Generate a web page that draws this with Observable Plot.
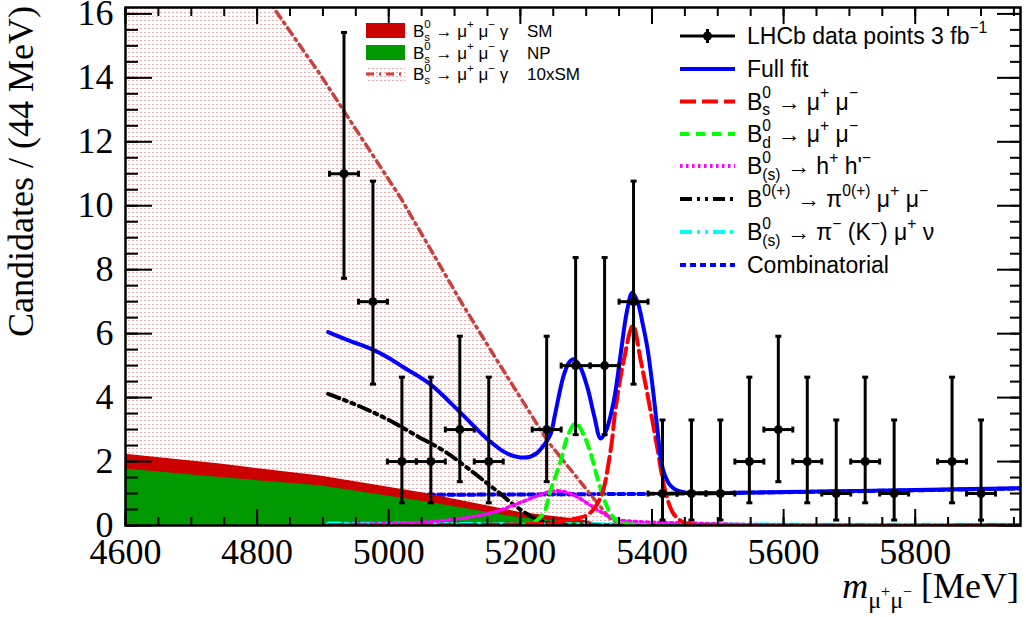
<!DOCTYPE html>
<html><head><meta charset="utf-8">
<script src="https://cdn.jsdelivr.net/npm/d3@7"></script>
<script src="https://cdn.jsdelivr.net/npm/@observablehq/plot@0.6"></script>
<style>body{margin:0;background:#fff;overflow:hidden}</style>
</head><body>
<div id="chart"></div>
<script>
// ---------------- data ----------------
const xMajor = [4600, 4800, 5000, 5200, 5400, 5600, 5800];
const yMajor = [0, 2, 4, 6, 8, 10, 12, 14, 16];

// LHCb data points (bin width 44 MeV)
const binHalfWidth = 22;
const binCenters = [4932, 4976, 5020, 5064, 5108, 5152, 5240, 5284, 5328, 5372, 5416, 5460, 5504, 5548, 5592, 5636, 5680, 5724, 5768, 5856, 5900];
const counts     = [11, 7, 2, 2, 3, 2, 3, 5, 5, 7, 1, 1, 1, 2, 3, 2, 1, 2, 1, 2, 1];
const errLow     = [7.73, 4.42, 0.71, 0.71, 1.37, 0.71, 1.37, 2.84, 2.84, 4.42, 0.17, 0.17, 0.17, 0.71, 1.37, 0.71, 0.17, 0.71, 0.17, 0.71, 0.17];
const errHigh    = [15.42, 10.77, 4.64, 4.64, 5.92, 4.64, 5.92, 8.38, 8.38, 10.77, 3.30, 3.30, 3.30, 4.64, 5.92, 4.64, 3.30, 4.64, 3.30, 4.64, 3.30];

// Full fit
const fullFitX = [4908, 4940, 4975, 5000, 5023, 5063, 5109, 5150, 5180, 5200, 5215, 5226, 5236, 5246, 5252, 5258, 5266, 5274, 5281, 5290, 5302, 5312, 5322, 5330, 5342, 5352, 5362, 5370, 5378, 5386, 5393, 5400, 5408, 5414, 5420, 5428, 5438, 5455, 5480, 5600, 5800, 5960];
const fullFitY = [6.05, 5.78, 5.51, 5.24, 4.94, 4.42, 3.53, 2.70, 2.25, 2.13, 2.15, 2.28, 2.52, 2.86, 3.40, 4.00, 4.70, 5.10, 5.20, 5.00, 4.31, 3.45, 2.72, 2.95, 3.90, 5.30, 6.70, 7.28, 7.00, 6.30, 5.56, 4.50, 3.06, 2.00, 1.55, 1.25, 1.10, 1.02, 1.01, 1.05, 1.11, 1.17];
// Bs -> mu mu
const bsX = [4908, 5150, 5250, 5285, 5304, 5322, 5337, 5345, 5357, 5371, 5383, 5395, 5408, 5420, 5433, 5450, 5480, 5960];
const bsY = [0, 0.02, 0.08, 0.22, 0.36, 0.88, 2.33, 3.70, 5.15, 6.25, 5.15, 3.90, 2.44, 1.10, 0.36, 0.08, 0.01, 0];
// Bd -> mu mu
const bdX = [4908, 5150, 5200, 5220, 5235, 5246, 5261, 5272, 5284, 5296, 5307, 5322, 5337, 5350, 5380, 5960];
const bdY = [0, 0, 0.02, 0.10, 0.37, 1.10, 2.00, 2.80, 3.20, 2.85, 2.24, 1.15, 0.37, 0.12, 0.02, 0];
// B(s) -> h h'
const misIdX = [4908, 5050, 5120, 5160, 5185, 5210, 5230, 5250, 5270, 5290, 5305, 5320, 5345, 5380, 5450, 5550, 5960];
const misIdY = [0.02, 0.10, 0.25, 0.42, 0.60, 0.80, 0.96, 1.08, 1.04, 0.85, 0.65, 0.45, 0.20, 0.12, 0.08, 0.03, 0.01];
// B -> pi mu mu
const piMuMuX = [4908, 4960, 5003, 5043, 5084, 5119, 5160, 5200, 5230, 5260, 5320, 5960];
const piMuMuY = [4.12, 3.69, 3.27, 2.80, 2.33, 1.81, 1.15, 0.50, 0.15, 0.03, 0, 0];
// B(s) -> pi (K) mu nu
const semiLepX = [4908, 5200, 5500, 5960];
const semiLepY = [0.06, 0.04, 0.03, 0.02];
// Combinatorial
const combX = [4908, 5200, 5400, 5600, 5800, 5960];
const combY = [0.95, 0.97, 0.99, 1.04, 1.10, 1.16];
// Bs -> mu mu gamma: SM, NP, 10xSM
const smX = [4600, 4744, 4896, 5048, 5200, 5292, 5330];
const smY = [2.23, 1.92, 1.55, 1.03, 0.41, 0.18, 0];
const npX = [4600, 4744, 4896, 5048, 5200, 5292, 5330];
const npY = [1.77, 1.50, 1.24, 0.77, 0.24, 0.08, 0];
const sm10X = [4600, 4825, 4896, 4932, 5018, 5112, 5165, 5216, 5241, 5311, 5337, 5358];
const sm10Y = [22.7, 16.19, 14.1, 12.96, 10.25, 6.92, 5.15, 3.48, 2.65, 0.86, 0.20, 0];

// ---------------- build tables ----------------
const zipXY = (xs, ys) => xs.map((x, i) => ({x, y: ys[i]}));
const points = binCenters.map((x, i) => ({x, n: counts[i], lo: errLow[i], hi: errHigh[i]}));
const fullFit = zipXY(fullFitX, fullFitY);
const bs = zipXY(bsX, bsY);
const bd = zipXY(bdX, bdY);
const misId = zipXY(misIdX, misIdY);
const piMuMu = zipXY(piMuMuX, piMuMuY);
const semiLep = zipXY(semiLepX, semiLepY);
const comb = zipXY(combX, combY);
const sm = zipXY(smX, smY);
const np = zipXY(npX, npY);
const sm10 = zipXY(sm10X, sm10Y);
const xMinor = d3.range(4600, 5960, 50);
const yMinor = d3.range(0, 16.01, 0.5);

const serif = "Liberation Serif";
const sans = "Liberation Sans";

const hLine = {draw(ctx, size) { const r = Math.sqrt(size / Math.PI); ctx.moveTo(-r, 0); ctx.lineTo(r, 0); }};
const vLine = {draw(ctx, size) { const r = Math.sqrt(size / Math.PI); ctx.moveTo(0, -r); ctx.lineTo(0, r); }};

const C = {
  fit: "#0000ff", bs: "#ff0000", bd: "#00ff00", misId: "#ff00ff", pi: "#000000",
  sl: "#00ffff", comb: "#0000ff", sm: "#cc0000", np: "#009900", sm10: "#c8413f"
};
const D = {bs: "16,6", bd: "9,7", misId: "2.5,3.5", pi: "12,5,3,5,3,5", sl: "12,5,3,5,3,5", comb: "6,4", sm10: "8,5,2,5"};

const noLabel = () => "";
const fmt = d => String(d);
const chart = Plot.plot({
  width: 1026, height: 617,
  marginLeft: 125, marginRight: 6, marginTop: 7, marginBottom: 92,
  x: {domain: [4600, 5960]},
  y: {domain: [0, 16.2]},
  marks: [
    Plot.areaY(sm10, {x: "x", y: "y", fill: "url(#dots10)", clip: true}),
    Plot.line(comb, {x: "x", y: "y", stroke: C.comb, strokeWidth: 4, strokeDasharray: D.comb, clip: true}),
    Plot.areaY(sm, {x: "x", y: "y", fill: C.sm}),
    Plot.areaY(np, {x: "x", y: "y", fill: C.np}),
    Plot.line(sm10, {x: "x", y: "y", stroke: C.sm10, strokeWidth: 3.5, strokeDasharray: D.sm10, clip: true}),
    Plot.line(semiLep, {x: "x", y: "y", stroke: C.sl, strokeWidth: 4, strokeDasharray: D.sl, clip: true}),
    Plot.line(piMuMu, {x: "x", y: "y", stroke: C.pi, strokeWidth: 4, strokeDasharray: D.pi, curve: "catmull-rom", clip: true}),
    Plot.line(misId, {x: "x", y: "y", stroke: C.misId, strokeWidth: 3.5, strokeDasharray: D.misId, curve: "catmull-rom", clip: true}),
    Plot.line(bd, {x: "x", y: "y", stroke: C.bd, strokeWidth: 4, strokeDasharray: D.bd, curve: "catmull-rom", clip: true}),
    Plot.line(bs, {x: "x", y: "y", stroke: C.bs, strokeWidth: 4, strokeDasharray: D.bs, curve: "catmull-rom", clip: true}),
    Plot.line(fullFit, {x: "x", y: "y", stroke: C.fit, strokeWidth: 4, curve: "catmull-rom", clip: true}),
    // data points
    Plot.ruleX(points, {x: "x", y1: "lo", y2: "hi", stroke: "black", strokeWidth: 3}),
    Plot.ruleY(points, {y: "n", x1: d => d.x - binHalfWidth, x2: d => d.x + binHalfWidth, stroke: "black", strokeWidth: 3}),
    Plot.dot(points, {x: "x", y: "hi", symbol: hLine, r: 3, stroke: "black", strokeWidth: 3}),
    Plot.dot(points, {x: "x", y: "lo", symbol: hLine, r: 3, stroke: "black", strokeWidth: 3}),
    Plot.dot(points, {x: d => d.x - binHalfWidth, y: "n", symbol: vLine, r: 3, stroke: "black", strokeWidth: 3}),
    Plot.dot(points, {x: d => d.x + binHalfWidth, y: "n", symbol: vLine, r: 3, stroke: "black", strokeWidth: 3}),
    Plot.dot(points, {x: "x", y: "n", r: 4.5, fill: "black", stroke: "none"}),
    // axes: inside ticks on all sides
    Plot.axisX(xMajor, {anchor: "bottom", tickSize: -16, strokeWidth: 2, tickFormat: noLabel, label: null}),
    Plot.axisX(xMinor, {anchor: "bottom", tickSize: -8, strokeWidth: 2, tickFormat: noLabel, label: null}),
    Plot.axisX(xMajor, {anchor: "top", tickSize: -16, strokeWidth: 2, tickFormat: noLabel, label: null}),
    Plot.axisX(xMinor, {anchor: "top", tickSize: -8, strokeWidth: 2, tickFormat: noLabel, label: null}),
    Plot.axisY(yMajor, {anchor: "left", tickSize: -27, strokeWidth: 2, tickFormat: noLabel, label: null}),
    Plot.axisY(yMinor, {anchor: "left", tickSize: -13, strokeWidth: 2, tickFormat: noLabel, label: null}),
    Plot.axisY(yMajor, {anchor: "right", tickSize: -24, strokeWidth: 2, tickFormat: noLabel, label: null}),
    Plot.axisY(yMinor, {anchor: "right", tickSize: -11, strokeWidth: 2, tickFormat: noLabel, label: null}),
    // tick labels (serif, Times-like)
    Plot.text(xMajor, {x: d => d, frameAnchor: "bottom", lineAnchor: "top", dy: 13, text: fmt,
      fontSize: 36, fontFamily: serif, fill: "black"}),
    Plot.text(yMajor, {y: d => d, frameAnchor: "left", textAnchor: "end", dx: -12, text: fmt,
      fontSize: 36, fontFamily: serif, fill: "black"}),
    Plot.frame({stroke: "black", strokeWidth: 2.5})
  ]
});
document.getElementById("chart").append(chart);

const svg = d3.select(chart);
svg.insert("defs", ":first-child").html(
  '<pattern id="dots10" width="4" height="4" patternUnits="userSpaceOnUse">' +
  '<rect x="0" y="0" width="2" height="1" fill="#eea8a8"/></pattern>');

// rich text helper (super/subscripts)
function richText(parent, x, y, parts, fs, family) {
  const t = parent.append("text").attr("x", x).attr("y", y).attr("text-anchor", "start")
    .attr("font-family", family).attr("font-size", fs).attr("fill", "black");
  let shift = 0, pendDx = 0;
  const up = -0.48 * fs, down = 0.24 * fs, small = 0.68 * fs;
  for (const p of parts) {
    if (typeof p === "string") {
      t.append("tspan").attr("dy", -shift).attr("dx", pendDx).text(p);
      shift = 0; pendDx = 0;
    } else if (p.sup !== undefined && p.sub !== undefined) {
      const a = t.append("tspan").attr("dy", up - shift).attr("dx", pendDx).attr("font-size", small).text(p.sup);
      const wa = a.node().getComputedTextLength();
      const b = t.append("tspan").attr("dx", -wa).attr("dy", down - up).attr("font-size", small).text(p.sub);
      const wb = b.node().getComputedTextLength();
      shift = down; pendDx = Math.max(0, wa - wb);
    } else if (p.sup !== undefined) {
      t.append("tspan").attr("dy", up - shift).attr("dx", pendDx).attr("font-size", small).text(p.sup);
      shift = up; pendDx = 0;
    } else if (p.sub !== undefined) {
      t.append("tspan").attr("dy", down - shift).attr("dx", pendDx).attr("font-size", small).text(p.sub);
      shift = down; pendDx = 0;
    }
  }
  return t;
}

// ---- legend 1 (Bs -> mu mu gamma) ----
const L1 = svg.append("g");
const l1Rows = [
  {y: 30.5, label: "SM", kind: "sm"},
  {y: 52.5, label: "NP", kind: "np"},
  {y: 74, label: "10xSM", kind: "sm10"}
];
const bsmmg = ["B", {sup: "0", sub: "s"}, " → μ", {sup: "+"}, " μ", {sup: "−"}, " γ"];
for (const r of l1Rows) {
  if (r.kind === "sm10") {
    L1.append("rect").attr("x", 366).attr("y", r.y - 7.5).attr("width", 39).attr("height", 15).attr("fill", "url(#dots10)");
    L1.append("line").attr("x1", 366).attr("x2", 405).attr("y1", r.y).attr("y2", r.y)
      .attr("stroke", C.sm10).attr("stroke-width", 3).attr("stroke-dasharray", D.sm10);
  } else {
    L1.append("rect").attr("x", 366).attr("y", r.y - 7.5).attr("width", 39).attr("height", 15).attr("fill", C[r.kind]);
  }
  richText(L1, 413, r.y + 6, bsmmg, 17, sans);
  L1.append("text").attr("x", 527).attr("y", r.y + 6).attr("text-anchor", "start")
    .attr("font-family", sans).attr("font-size", 17).attr("fill", "black").text(r.label);
}

// ---- legend 2 ----
const L2 = svg.append("g");
const l2Rows = [
  {y: 36, kind: "data", parts: ["LHCb data points 3 fb", {sup: "−1"}]},
  {y: 69, kind: "fit", parts: ["Full fit"]},
  {y: 101.5, kind: "bs", parts: ["B", {sup: "0", sub: "s"}, " → μ", {sup: "+"}, " μ", {sup: "−"}]},
  {y: 134, kind: "bd", parts: ["B", {sup: "0", sub: "d"}, " → μ", {sup: "+"}, " μ", {sup: "−"}]},
  {y: 166, kind: "misId", parts: ["B", {sup: "0", sub: "(s)"}, " → h", {sup: "+"}, " h'", {sup: "−"}]},
  {y: 199, kind: "pi", parts: ["B", {sup: "0(+)"}, " → π", {sup: "0(+)"}, " μ", {sup: "+"}, " μ", {sup: "−"}]},
  {y: 232, kind: "sl", parts: ["B", {sup: "0", sub: "(s)"}, " → π", {sup: "−"}, " (K", {sup: "−"}, ") μ", {sup: "+"}, " ν"]},
  {y: 265, kind: "comb", parts: ["Combinatorial"]}
];
for (const r of l2Rows) {
  if (r.kind === "data") {
    L2.append("line").attr("x1", 680).attr("x2", 735).attr("y1", r.y).attr("y2", r.y).attr("stroke", "black").attr("stroke-width", 3);
    L2.append("line").attr("x1", 707.5).attr("x2", 707.5).attr("y1", r.y - 7).attr("y2", r.y + 7).attr("stroke", "black").attr("stroke-width", 3);
    L2.append("circle").attr("cx", 707.5).attr("cy", r.y).attr("r", 4.5).attr("fill", "black");
  } else {
    L2.append("line").attr("x1", 680).attr("x2", 735).attr("y1", r.y).attr("y2", r.y)
      .attr("stroke", C[r.kind]).attr("stroke-width", 4)
      .attr("stroke-dasharray", D[r.kind] || null);
  }
  richText(L2, 747, r.y + 8, r.parts, 23, sans);
}

// ---- axis titles ----
const xt = svg.append("text").attr("x", 1019).attr("y", 598).attr("text-anchor", "end")
  .attr("font-family", serif).attr("font-size", 36).attr("fill", "black");
xt.append("tspan").attr("font-style", "italic").text("m");
xt.append("tspan").attr("font-size", 24).attr("dy", 10).text("μ");
xt.append("tspan").attr("font-size", 16).attr("dy", -11).text("+");
xt.append("tspan").attr("font-size", 24).attr("dy", 11).text("μ");
xt.append("tspan").attr("font-size", 16).attr("dy", -11).text("−");
xt.append("tspan").attr("dy", 1).text(" [MeV]");

svg.append("text").attr("transform", "translate(33,6) rotate(-90)").attr("text-anchor", "end")
  .attr("font-family", serif).attr("font-size", 36).attr("fill", "black")
  .text("Candidates / (44 MeV)");
</script>
</body></html>
